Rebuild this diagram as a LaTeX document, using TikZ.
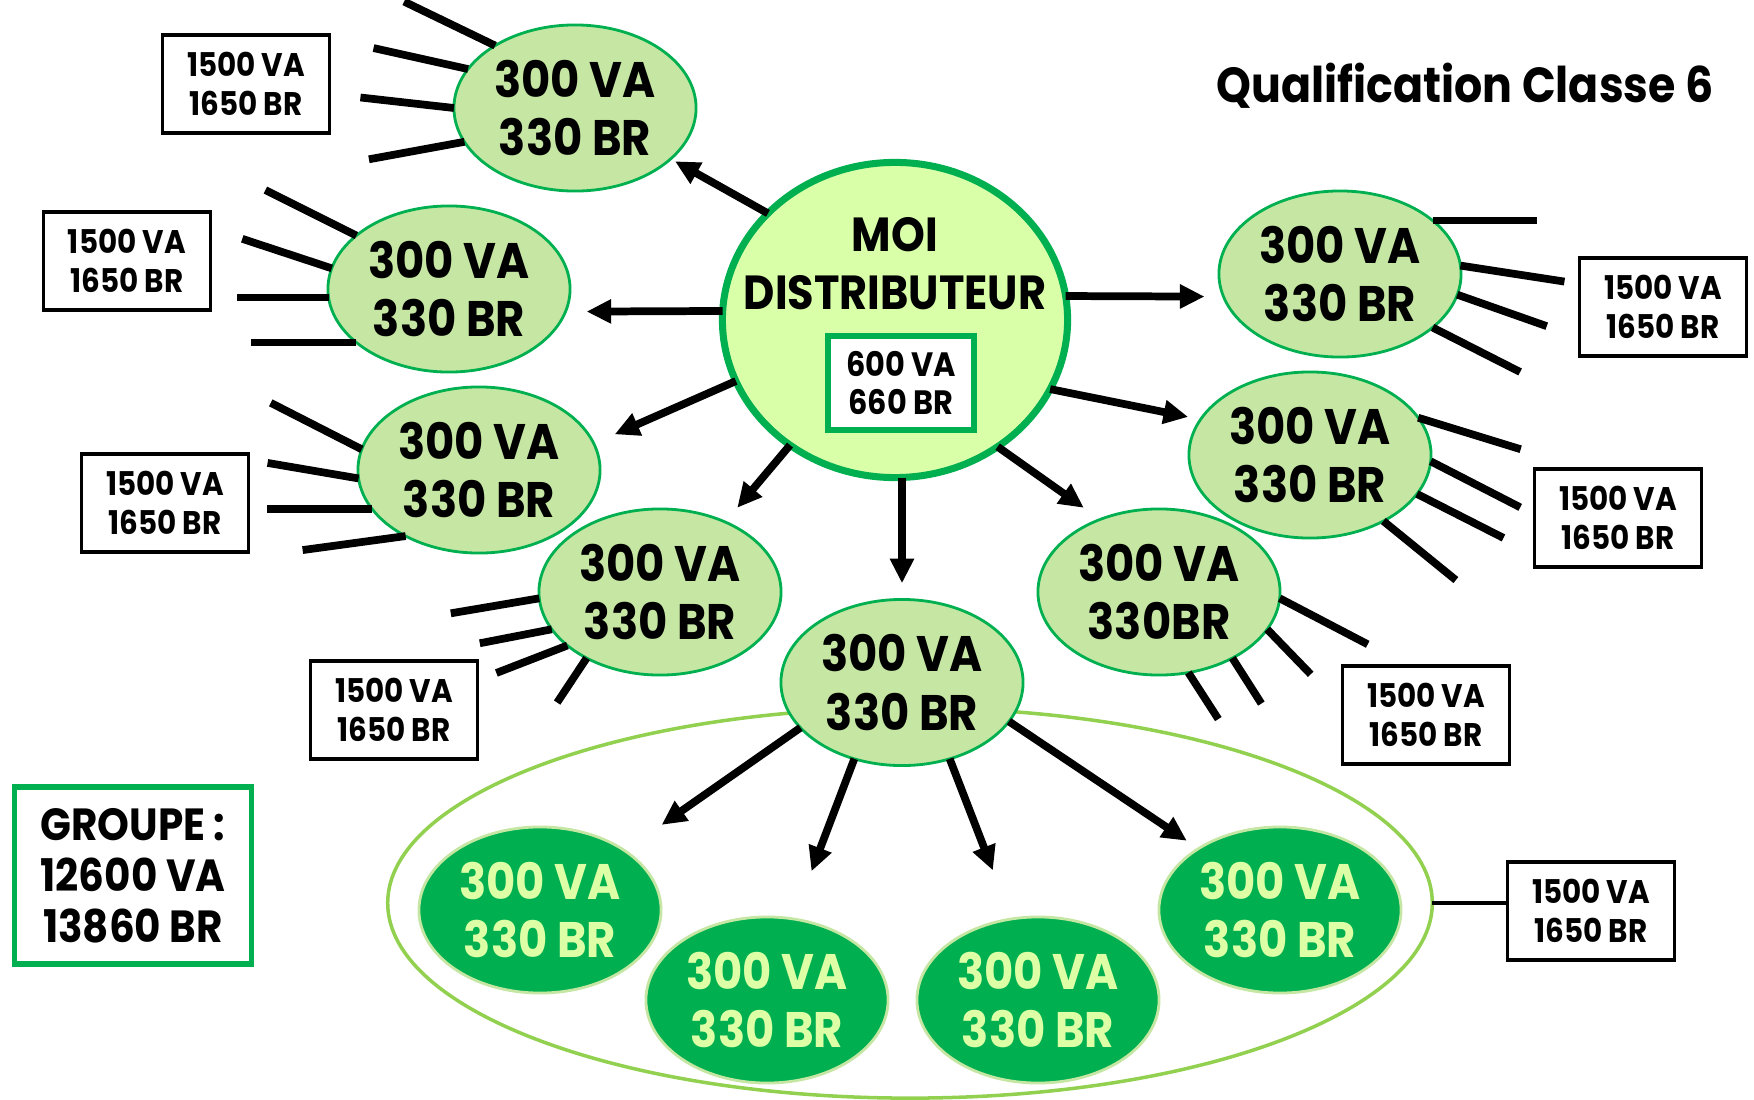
\documentclass[tikz,border=0pt]{standalone}
\usepackage{fontspec}
\setmainfont{Poppins}[FakeStretch=0.9]
\usetikzlibrary{shapes.geometric,arrows.meta}
\definecolor{vertfonce}{HTML}{00B050}
\definecolor{vertclair}{HTML}{C6E6A3}
\definecolor{vertmoi}{HTML}{D9FFA9}
\definecolor{vertpomme}{HTML}{92D050}
\definecolor{texteclair}{HTML}{DDFFA6}
\tikzset{
	vente/.style={ellipse, draw=vertfonce, line width=0.8pt, fill=vertclair, minimum width=2.42cm, minimum height=1.66cm, inner sep=0pt, outer sep=0pt, align=center, font=\bfseries\fontsize{14.2}{16.5}\selectfont},
	equipe/.style={vente, draw=vertclair, fill=vertfonce, text=texteclair},
	carton/.style={draw, line width=1pt, fill=white, minimum width=1.67cm, minimum height=0.98cm, inner sep=0pt, align=center, font=\bfseries\fontsize{9.3}{11.1}\selectfont},
	rayon/.style={line width=2.2pt},
	fleche/.style={line width=2.2pt, -{Triangle[length=7pt,width=6.5pt]}}
}

\begin{document}
\begin{tikzpicture}[x=0.01cm, y=-0.01cm]
	\useasboundingbox (0,0) rectangle (1754,1100);

	\node[ellipse, draw=vertpomme, line width=1pt, minimum width=10.44cm, minimum height=3.9cm, inner sep=0pt, outer sep=0pt] (grp) at (910,903) {};

	\node[ellipse, draw=vertfonce, line width=2pt, fill=vertmoi, minimum width=3.45cm, minimum height=3.15cm, inner sep=0pt, outer sep=0pt] (moi) at (895,320) {};
	\node[align=center, font=\bfseries\fontsize{13.6}{16.5}\selectfont] (moitxt) at (895,264) {MOI\\DISTRIBUTEUR};
	\node[carton, draw=vertfonce, line width=1.6pt, minimum width=1.46cm, minimum height=0.94cm, font=\bfseries\fontsize{9.6}{10.9}\selectfont] (stock) at (901,383) {600 VA\\660 BR};

	\node[vente] (e1) at (575,108) {300 VA\\330 BR};
	\node[vente] (e2) at (449,289) {300 VA\\330 BR};
	\node[vente] (e3) at (479,470) {300 VA\\330 BR};
	\node[vente] (e4) at (660,592) {300 VA\\330 BR};
	\node[vente] (e5) at (902,682.5) {300 VA\\330 BR};
	\node[vente] (e6) at (1159,592) {300 VA\\330BR};
	\node[vente] (e7) at (1340,274) {300 VA\\330 BR};
	\node[vente] (e8) at (1310,455) {300 VA\\330 BR};

	\node[equipe] (g1) at (540,910) {300 VA\\330 BR};
	\node[equipe] (g2) at (767,1000) {300 VA\\330 BR};
	\node[equipe] (g3) at (1038,1000) {300 VA\\330 BR};
	\node[equipe] (g4) at (1280,910) {300 VA\\330 BR};

	\node[carton] (c1) at (246,84) {1500 VA\\1650 BR};
	\node[carton] (c2) at (127,261) {1500 VA\\1650 BR};
	\node[carton] (c3) at (165,503) {1500 VA\\1650 BR};
	\node[carton] (c4) at (394,710) {1500 VA\\1650 BR};
	\node[carton] (c5) at (1663,307) {1500 VA\\1650 BR};
	\node[carton] (c6) at (1618,518) {1500 VA\\1650 BR};
	\node[carton] (c7) at (1426,715) {1500 VA\\1650 BR};
	\node[carton] (c8) at (1591,911) {1500 VA\\1650 BR};

	\node[carton, draw=vertfonce, line width=1.6pt, minimum width=2.37cm, minimum height=1.77cm, font=\bfseries\fontsize{12.8}{14.5}\selectfont] (total) at (133,875.5) {GROUPE :\\12600 VA\\13860 BR};
	\node[anchor=base, font=\bfseries\fontsize{14}{16}\selectfont] (titre) at (1465,102) {Qualification Classe 6};

	% fleches du distributeur
	\draw[fleche, shorten >=1.4pt] (moi.140) -- (e1.-28);
	\draw[fleche, shorten >=6pt] (moi.177) -- (e2.-11);
	\draw[fleche, shorten >=6.5pt] (moi.201) -- (e3.13);
	\draw[fleche, shorten >=5.3pt] (moi.230) -- (e4.47);
	\draw[fleche, shorten >=4.6pt] (e5.north |- moi.south) -- (e5.north);
	\draw[fleche, shorten >=5.7pt] (moi.-51) -- (e6.129);
	\draw[fleche, shorten >=5.4pt] (moi.8) -- (e7.191);
	\draw[fleche, shorten >=3.6pt] (moi.-24) -- (e8.162);

	\draw[fleche, shorten >=12.8pt] (e5.204) -- (g1.35);
	\draw[fleche, shorten >=14.5pt] (e5.238) -- (g2.72);
	\draw[fleche, shorten >=14.8pt] (e5.-58) -- (g3.108);
	\draw[fleche, shorten >=4pt] (e5.-20) -- (g4.143);

	% rayons
	\draw[rayon] (e1.142) -- ++(-91,-44);
	\draw[rayon] (e1.160) -- ++(-94.5,-21);
	\draw[rayon] (e1.180) -- ++(-93.5,-10.5);
	\draw[rayon] (e1.197) -- ++(-95.5,17.5);

	\draw[rayon] (e2.150) -- ++(-91,-45.5);
	\draw[rayon] (e2.170) -- ++(-89.5,-29.5);
	\draw[rayon] (e2.184) -- ++(-91.5,0);
	\draw[rayon] (e2.210) -- ++(-105,0);

	\draw[rayon] (e3.170) -- ++(-91,-46.5);
	\draw[rayon] (e3.184) -- ++(-91,-15.5);
	\draw[rayon] (e3.200) -- ++(-105,0);
	\draw[rayon] (e3.222) -- ++(-103,14);

	\draw[rayon] (e4.183) -- ++(-88.5,15);
	\draw[rayon] (e4.199) -- ++(-72,14);
	\draw[rayon] (e4.210) -- ++(-71,27.5);
	\draw[rayon] (e4.222) -- ++(-29.5,44.5);

	\draw[rayon] (e6.-3) -- ++(88,46);
	\draw[rayon] (e6.-19) -- ++(43.5,45);
	\draw[rayon] (e6.-42) -- ++(29,45.5);
	\draw[rayon] (e6.-70) -- ++(30,46.5);

	\draw[rayon] (e7.30) -- ++(104.5,0);
	\draw[rayon] (e7.4) -- ++(104,16);
	\draw[rayon] (e7.-10) -- ++(89.5,31.5);
	\draw[rayon] (e7.-30) -- ++(87.5,44.5);

	\draw[rayon] (e8.19) -- ++(102.5,31.5);
	\draw[rayon] (e8.-3) -- ++(89.5,46);
	\draw[rayon] (e8.-20) -- ++(86.5,44);
	\draw[rayon] (e8.-42) -- ++(72.5,59);

	\draw[line width=1pt] (grp.east) -- (c8.west |- grp.east);
\end{tikzpicture}
\end{document}
